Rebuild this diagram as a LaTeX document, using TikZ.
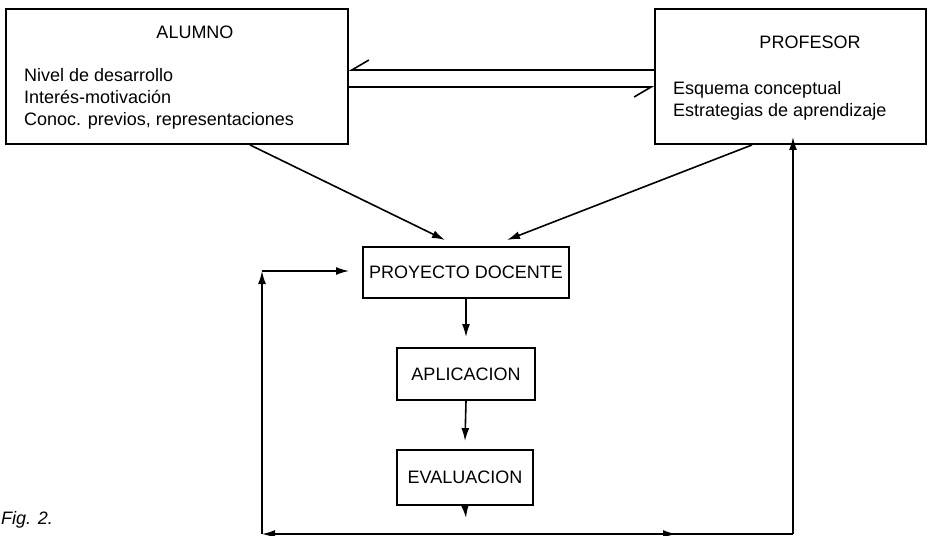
\documentclass[tikz,border=0pt]{standalone}
\usepackage{fontspec}
\setmainfont{Liberation Sans}
\usetikzlibrary{arrows.meta,positioning}

\begin{document}
\begin{tikzpicture}[
  x=1pt,y=-1pt,
  font=\fontsize{18}{22}\selectfont,
  caja/.style={draw,line width=1.9pt,minimum width=#1,inner sep=0pt},
  flecha/.style={line width=1.6pt,-{Latex[length=13pt,width=8pt]}},
  linea/.style={line width=1.6pt},
  barba/.style={line width=1.6pt,-{Straight Barb[harpoon,swap,length=17pt,width=20pt,line width=1.6pt]}},
  lista/.style={anchor=west,align=left,inner sep=0pt}
]
\useasboundingbox (0,0) rectangle (930,536);

\node[caja=342pt,minimum height=135pt] (alumno) at (177,76.5) {};
\node[caja=271pt,minimum height=135pt] (profesor) at (790.5,76.5) {};
\node at (195,32) (talumno) {ALUMNO};
\node at (810,42) (tprofesor) {PROFESOR};
\node[lista] (lalumno) at (24,99) {Nivel de desarrollo\\Interés-motivación\\Conoc. previos, representaciones};
\node[lista] (lprofesor) at (673,100.5) {Esquema conceptual\\Estrategias de aprendizaje};

\node[caja=206pt,minimum height=51pt] (proyecto) at (466,272.5) {PROYECTO DOCENTE};
\node[caja=138pt,minimum height=52pt] (aplicacion) at (466,374) {APLICACION};
\node[caja=136pt,minimum height=55pt] (evaluacion) at (465,477.5) {EVALUACION};

\node[anchor=west,inner sep=0pt,font=\fontsize{18}{20}\selectfont\itshape] (fig) at (1,520) {Fig. 2.};

% relacion alumno-profesor
\draw[barba] (profesor.west |- 0,70) -- (alumno.east |- 0,70);
\draw[barba] (alumno.east |- 0,87) -- (profesor.west |- 0,87);

% hacia el proyecto docente
\coordinate (pa) at (445,240);
\coordinate (pp) at (507,240);
\draw[flecha] (alumno.south -| 250,0) -- (pa);
\draw[flecha] (profesor.south -| 752,0) -- (pp);

\draw[flecha] (proyecto.south) -- ([yshift=10pt]aplicacion.north);
\draw[flecha] (aplicacion.south) -- ([yshift=8pt]evaluacion.north);

% realimentacion
\coordinate (base) at (466,534);
\coordinate (izq) at (262,534);
\coordinate (esq) at (262,271);
\coordinate (der) at (793,534);
\draw[flecha] (evaluacion.south) -- (466,518);
\draw[flecha] (base) -- (izq);
\draw[flecha] (izq) -- (esq);
\draw[flecha] (esq) -- ([xshift=-13pt]proyecto.west |- esq);
\draw[flecha] (base) -- (676,534);
\draw[linea] (670,534) -- (der);
\draw[flecha] (der) -- ([yshift=8pt]profesor.south -| der);
\end{tikzpicture}
\end{document}
